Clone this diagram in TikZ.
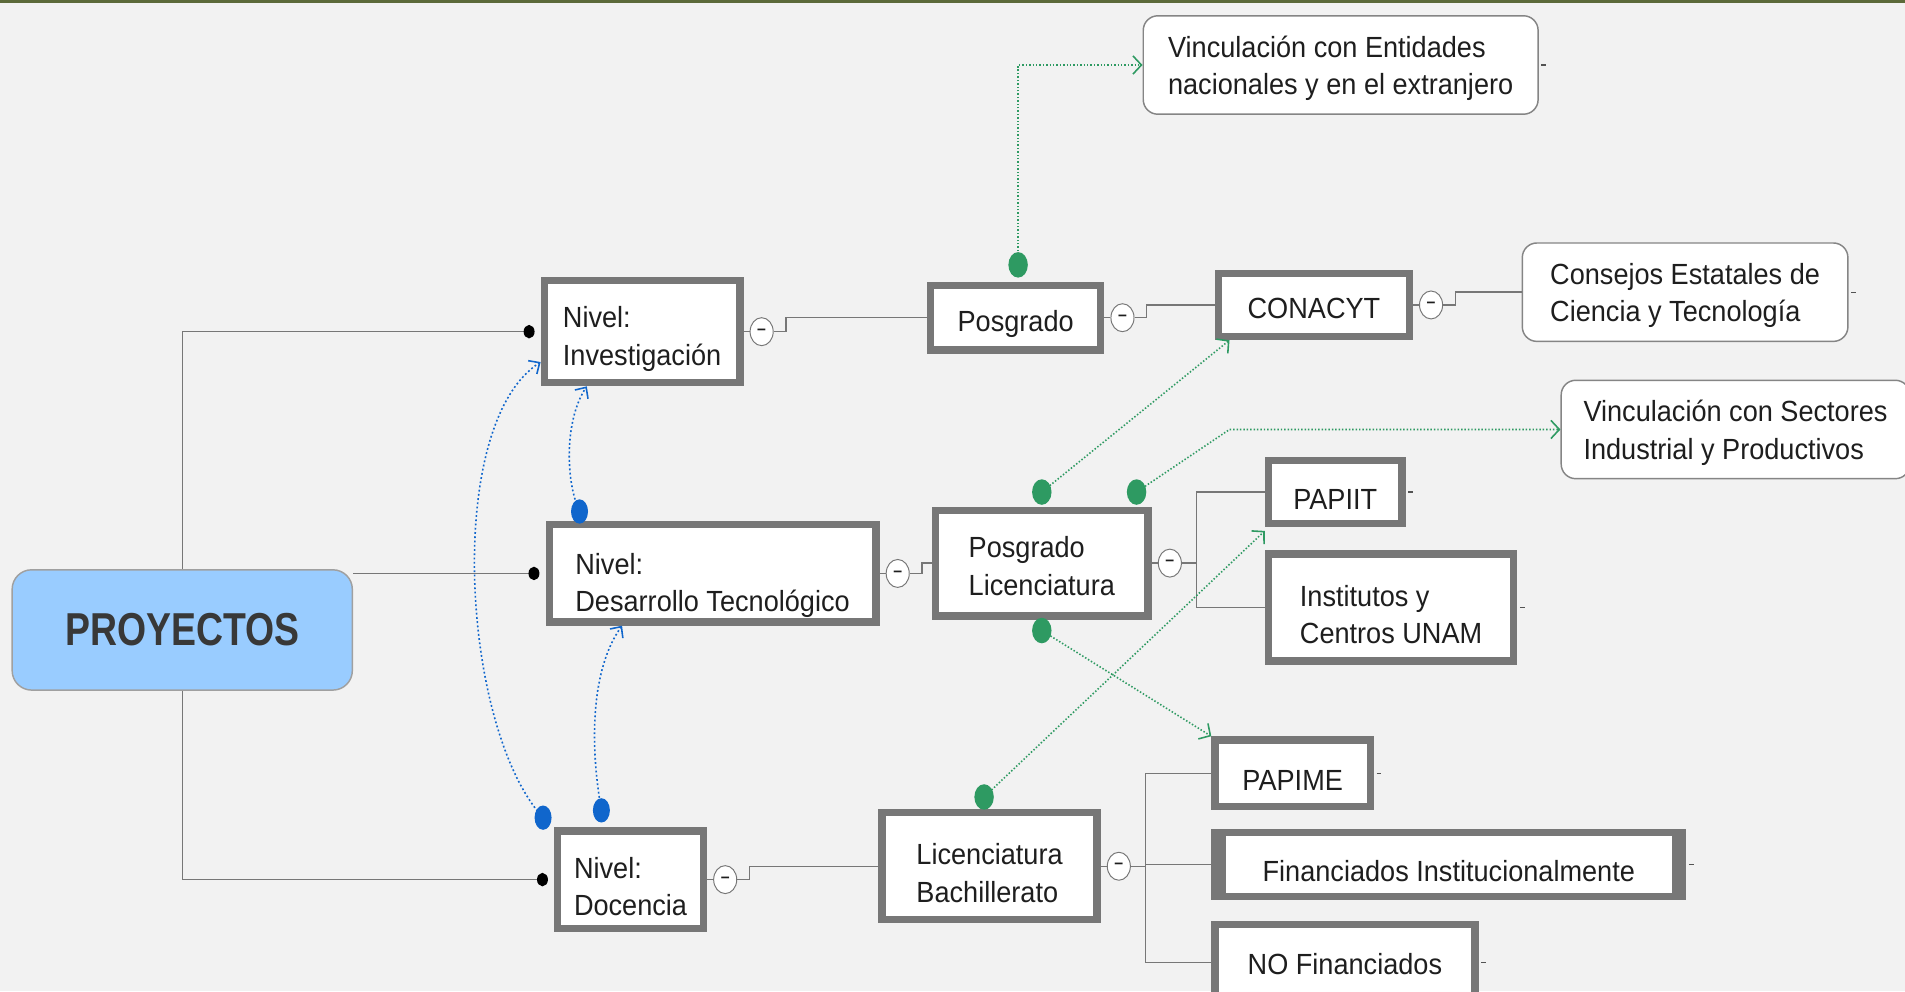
\documentclass[tikz,border=0pt]{standalone}
\usepackage{fontspec}
\setmainfont{Liberation Sans}[FakeStretch=0.93]
\newfontfamily\titlefont{Liberation Sans}[FakeStretch=0.81]
\usetikzlibrary{positioning,arrows.meta,shapes.geometric}
\definecolor{fondo}{HTML}{F2F2F2}
\definecolor{barra}{HTML}{5C6A3A}
\definecolor{borde}{HTML}{777777}
\definecolor{celeste}{HTML}{99CCFF}
\definecolor{verde}{HTML}{2E9A62}
\definecolor{azul}{HTML}{1066CC}
\definecolor{texto}{HTML}{1E1E1E}

\begin{document}
\begin{tikzpicture}[x=1pt, y=-1pt, font=\fontsize{24}{31}\selectfont, text=texto,
	sube/.code={\def\alturasube{#1}},
	caja/.style={draw=borde, line width=6pt, line join=miter, fill=white, align=left, inner sep=0pt, sube=28pt, execute at begin node={\rule{0pt}{\alturasube}}},
	dos/.style={sube=60pt},
	hoja/.style={draw=borde!90, line width=1.2pt, fill=white, rounded corners=12pt, align=left, inner sep=0pt, execute at begin node={\rule{0pt}{54pt}}},
	proy/.style={draw=borde!70, line width=1.2pt, fill=celeste, rounded corners=16pt, minimum width=280pt, minimum height=99pt, text=black!78, font=\titlefont\bfseries\fontsize{38}{38}\selectfont},
	menos/.style={ellipse, draw=borde, line width=0.8pt, fill=white, minimum width=19pt, minimum height=23pt, inner sep=0pt, font=\fontsize{14}{14}\selectfont\bfseries},
	rama/.style={borde, line width=1.2pt},
	tronco/.style={borde, line width=1.2pt, -{Circle[length=9pt,width=11pt,color=black]}, shorten >=5pt},
	verdel/.style={verde, line width=1.3pt, dash pattern=on 1.2pt off 1.6pt, -{Straight Barb[length=7pt,width=15pt]}},
	azull/.style={azul, line width=1.3pt, dash pattern=on 1.5pt off 2pt, -{Straight Barb[length=7pt,width=13pt]}}]
	\useasboundingbox (0,0) rectangle (1568,816);
	\fill[fondo] (0,0) rectangle (1568,816);
	\fill[barra] (0,0) rectangle (1568,2.5);
	% raiz y niveles
	\node[proy] (proy) at (150,518.5) {PROYECTOS};
	\node[caja, dos, minimum width=161pt, minimum height=84pt] (inv) at (528.5,273) {Nivel:\\Investigación};
	\node[caja, dos, sube=68pt, minimum width=269pt, minimum height=80pt] (des) at (586.5,472) {Nivel:\\Desarrollo Tecnológico};
	\node[caja, dos, minimum width=120pt, minimum height=80pt] (doc) at (519,724) {Nivel:\\Docencia};
	% segundo nivel
	\node[caja, minimum width=140pt, minimum height=53pt] (pos) at (836,261.5) {Posgrado};
	\node[caja, dos, sube=53pt, minimum width=175pt, minimum height=87pt] (posl) at (857.5,463.5) {Posgrado\\Licenciatura};
	\node[caja, dos, minimum width=177pt, minimum height=88pt] (lic) at (814.5,713) {Licenciatura\\Bachillerato};
	% programas
	\node[caja, sube=22pt, minimum width=157pt, minimum height=52pt] (cona) at (1081.5,251) {CONACYT};
	\node[caja, minimum width=110pt, minimum height=52pt] (papiit) at (1099,405) {PAPIIT};
	\node[caja, dos, minimum width=202pt, minimum height=88pt] (inst) at (1145,500) {Institutos y\\Centros UNAM};
	\node[caja, minimum width=128pt, minimum height=55pt] (papime) at (1064,636.5) {PAPIME};
	\node[caja, minimum width=385pt, minimum height=53pt] (fin) at (1192.5,711.5) {Financiados Institucionalmente};
	\node[caja, sube=20pt, minimum width=214pt, minimum height=62pt] (nofin) at (1107,792) {NO Financiados};
	\fill[borde] (fin.north west) rectangle ([xshift=12pt]fin.south west);
	\fill[borde] ([xshift=-12pt]fin.north east) rectangle (fin.south east);
	% vinculaciones
	\node[hoja, minimum width=325pt, minimum height=81pt] (vent) at (1103.5,53.5) {Vinculación con Entidades\\nacionales y en el extranjero};
	\node[hoja, minimum width=268pt, minimum height=81pt] (cons) at (1387,240.5) {Consejos Estatales de\\Ciencia y Tecnología};
	\node[hoja, minimum width=287pt, minimum height=81pt] (vsec) at (1428.5,353.5) {Vinculación con Sectores\\Industrial y Productivos};
	% botones de plegado
	\node[menos, right=5pt of inv] (m1) {–};
	\node[menos, right=5pt of pos] (m2) {–};
	\node[menos, right=5pt of cona] (m3) {–};
	\node[menos, right=5pt of des] (m4) {–};
	\node[menos, right=5pt of posl] (m5) {–};
	\node[menos, right=5pt of doc] (m6) {–};
	\node[menos, right=5pt of lic] (m7) {–};
	% ramas
	\draw[tronco] (proy.north) |- (inv.west);
	\draw[tronco] (proy.east |- des.west) -- (des.west);
	\draw[tronco] (proy.south) |- (doc.west);
	\foreach \a/\m/\b in {inv/m1/pos, pos/m2/cona, cona/m3/cons, des/m4/posl, doc/m6/lic}
		\draw[rama] (\a.east) -- (\m.west) (\m.east) -- ++(10,0) |- (\b.west);
	\draw[rama] (posl.east) -- (m5.west) (m5.east) -- ++(12,0) |- (papiit.west) (m5.east) ++(12,0) |- (inst.west);
	\draw[rama] (lic.east) -- (m7.west) (m7.east) -- ++(12,0) |- (papime.west) (m7.east) ++(12,0) |- (fin.west) (m7.east) ++(12,0) |- (nofin.west);
	\foreach \n in {vent,cons,papiit,inst,papime,fin,nofin}
		\draw[borde!70!black, line width=1pt] (\n.east) ++(2,0) -- ++(4,0);
	% relaciones (verde)
	\coordinate (g1) at ([xshift=2pt,yshift=14pt]pos.north);
	\coordinate (g2) at ([yshift=12pt]posl.north);
	\coordinate (g3) at ([xshift=78pt,yshift=12pt]posl.north);
	\coordinate (g4) at ([yshift=-9pt]posl.south);
	\coordinate (g5) at ([xshift=-4.5pt,yshift=10pt]lic.north);
	\draw[verdel] (g1) |- (vent.west);
	\draw[verdel] (g2) -- ([xshift=12pt]cona.south west);
	\draw[verdel] (g3) -- ([xshift=12pt]cona.south west |- vsec.west) -- (vsec.west);
	\draw[verdel] (g4) -- (papime.north west);
	\draw[verdel] (g5) -- ([yshift=-3pt]papiit.south west);
	\foreach \g in {g1,g2,g3,g4,g5}
		\fill[verde] (\g) ellipse (8pt and 10.5pt);
	% relaciones (azul)
	\coordinate (b1) at ([xshift=-9pt,yshift=8pt]doc.north west);
	\coordinate (b2) at ([xshift=-24pt,yshift=14pt]doc.north);
	\coordinate (b3) at ([xshift=-109.5pt,yshift=8pt]des.north);
	\draw[azull] (b1) .. controls (380,600) and (365,350) .. ([yshift=-25pt]inv.west);
	\draw[azull] (b2) .. controls (485,610) and (487,550) .. ([xshift=-74.5pt]des.south);
	\draw[azull] (b3) .. controls (465,395) and (465,345) .. ([xshift=-45.5pt]inv.south);
	\foreach \b in {b1,b2,b3}
		\fill[azul] (\b) ellipse (7pt and 10pt);
\end{tikzpicture}
\end{document}
